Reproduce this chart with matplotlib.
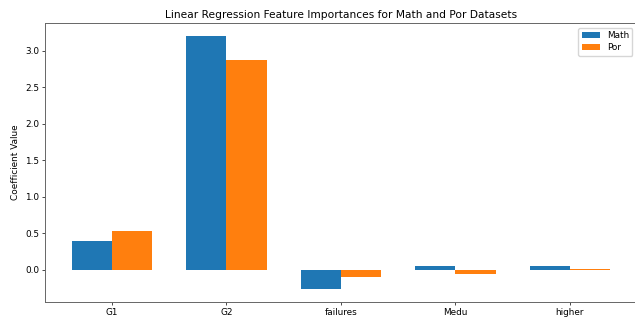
import numpy as np
import matplotlib
matplotlib.use("Agg")
import matplotlib.pyplot as plt

features = ["G1", "G2", "failures", "Medu", "higher"]
math_coef = [0.40, 3.20, -0.265, 0.05, 0.05]
por_coef = [0.53, 2.87, -0.096, -0.065, 0.01]

fig = plt.figure(figsize=(6.35, 3.2), dpi=100)
ax = fig.add_axes([0.0709, 0.057, 0.9321, 0.870])

x = np.arange(len(features))
width = 0.35
ax.bar(x - width / 2, math_coef, width, label="Math", color="#1f77b4")
ax.bar(x + width / 2, por_coef, width, label="Por", color="#ff7f0e")

ax.set_xticks(x)
ax.set_xticklabels(features)
ax.set_title("Linear Regression Feature Importances for Math and Por Datasets",
             fontsize=7.7, pad=4)
ax.set_xlabel("Features", fontsize=6.4, labelpad=3)
ax.set_ylabel("Coefficient Value", fontsize=6.4, labelpad=4)
ax.tick_params(labelsize=6.4, length=2.2, width=0.5, pad=2)
for s in ax.spines.values():
    s.set_linewidth(0.7)
    s.set_color("#666666")
ax.legend(fontsize=6.4, loc="upper right", handlelength=2.0, borderpad=0.4,
          labelspacing=0.3)

fig.savefig("out.png", dpi=100)
